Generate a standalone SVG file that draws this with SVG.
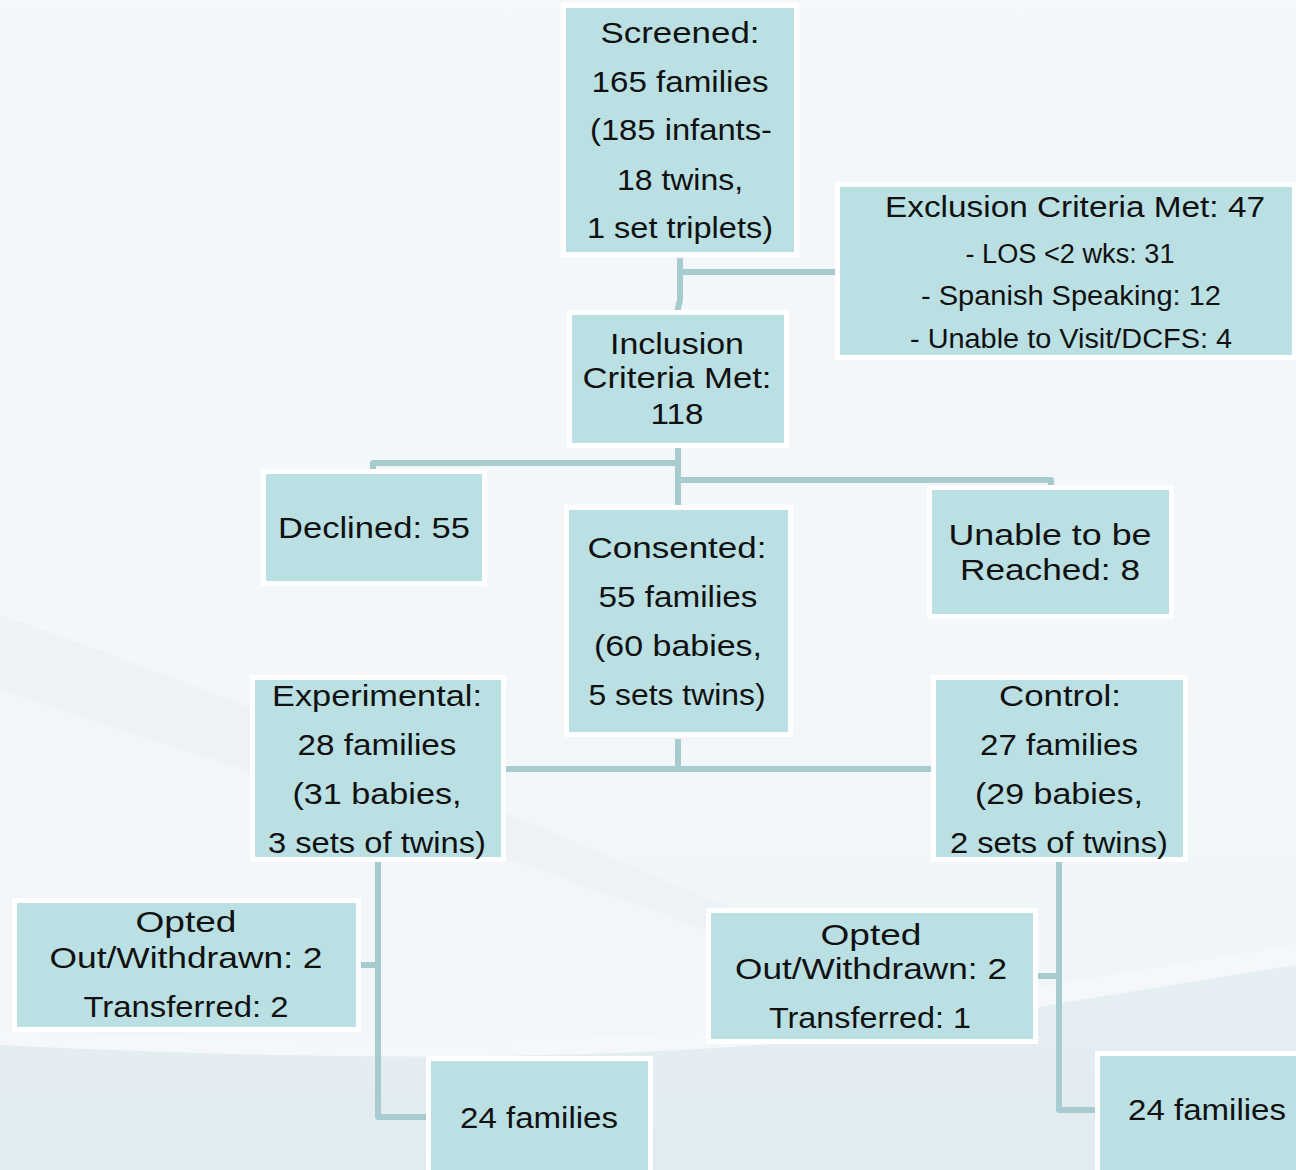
<svg xmlns="http://www.w3.org/2000/svg" width="1296" height="1170" viewBox="0 0 1296 1170">
<style>
.box{fill:#bae0e3;stroke:#ffffff;stroke-width:5}
.t{font-family:"Liberation Sans",Arial,sans-serif;font-size:30px;fill:#111;text-anchor:middle}
.s{font-size:27px}
.conn{fill:none;stroke:#a8cbcf;stroke-width:6;stroke-linejoin:round}
</style>
<defs>
<linearGradient id="bg" x1="0" y1="0" x2="0" y2="1">
<stop offset="0" stop-color="#f5f8fb"/>
<stop offset="0.6" stop-color="#f3f7fa"/>
<stop offset="1" stop-color="#eef4f7"/>
</linearGradient>
<linearGradient id="low" x1="0" y1="0" x2="0" y2="1">
<stop offset="0" stop-color="#e6eff3"/>
<stop offset="1" stop-color="#e1ecf0"/>
</linearGradient>
</defs>
<rect width="1296" height="1170" fill="url(#bg)"/>
<path d="M0 615 C250 700 520 820 760 920 C900 975 1050 1010 1296 1040 L1296 1170 L0 1170 Z" fill="#edf2f6"/>
<path d="M0 690 C250 770 520 860 760 950 C900 1000 1050 1030 1296 1050 L1296 1170 L0 1170 Z" fill="#f2f6f9"/>
<path d="M0 1030 C300 1045 650 1050 900 1010 C1050 985 1200 960 1296 945 L1296 1170 L0 1170 Z" fill="#f4f8fa"/>
<path d="M0 1045 C300 1060 650 1065 900 1030 C1050 1005 1200 980 1296 965 L1296 1170 L0 1170 Z" fill="url(#low)"/>

<g id="connectors">
<path class="conn" d="M680 258 V300 L678 308 V312"/>
<path class="conn" d="M680 272 H836"/>
<path class="conn" d="M678 448 V505"/>
<path class="conn" d="M678 463 H373 V471"/>
<path class="conn" d="M678 480 H1051 V487"/>
<path class="conn" d="M678 739 V769"/>
<path class="conn" d="M506 769 H931"/>
<path class="conn" d="M378 862 V1117 H428"/>
<path class="conn" d="M361 965 H378"/>
<path class="conn" d="M1059 862 V1110 H1096"/>
<path class="conn" d="M1038 976 H1059"/>
</g>

<g id="screened">
<rect class="box" x="563.5" y="5.5" width="233" height="249"/>
<text class="t" x="680" y="43" textLength="159" lengthAdjust="spacingAndGlyphs">Screened:</text>
<text class="t" x="680" y="92" textLength="177" lengthAdjust="spacingAndGlyphs">165 families</text>
<text class="t" x="681" y="140" textLength="182" lengthAdjust="spacingAndGlyphs">(185 infants-</text>
<text class="t" x="680" y="190" textLength="126" lengthAdjust="spacingAndGlyphs">18 twins,</text>
<text class="t" x="680" y="238" textLength="186" lengthAdjust="spacingAndGlyphs">1 set triplets)</text>
</g>

<g id="exclusion">
<rect class="box" x="837.5" y="184.5" width="457" height="173"/>
<text class="t" x="1075" y="217" textLength="380" lengthAdjust="spacingAndGlyphs">Exclusion Criteria Met: 47</text>
<text class="t s" x="1070" y="263" textLength="209" lengthAdjust="spacingAndGlyphs">- LOS &lt;2 wks: 31</text>
<text class="t s" x="1071" y="305" textLength="300" lengthAdjust="spacingAndGlyphs">- Spanish Speaking: 12</text>
<text class="t s" x="1071" y="348" textLength="322" lengthAdjust="spacingAndGlyphs">- Unable to Visit/DCFS: 4</text>
</g>

<g id="inclusion">
<rect class="box" x="569.5" y="312.5" width="217" height="133"/>
<text class="t" x="677" y="354" textLength="134" lengthAdjust="spacingAndGlyphs">Inclusion</text>
<text class="t" x="677" y="388" textLength="189" lengthAdjust="spacingAndGlyphs">Criteria Met:</text>
<text class="t" x="677" y="424" textLength="53" lengthAdjust="spacingAndGlyphs">118</text>
</g>

<g id="declined">
<rect class="box" x="263.5" y="471.5" width="221" height="112"/>
<text class="t" x="374" y="538" textLength="192" lengthAdjust="spacingAndGlyphs">Declined: 55</text>
</g>

<g id="consented">
<rect class="box" x="566.5" y="507.5" width="224" height="227"/>
<text class="t" x="677" y="558" textLength="179" lengthAdjust="spacingAndGlyphs">Consented:</text>
<text class="t" x="678" y="607" textLength="159" lengthAdjust="spacingAndGlyphs">55 families</text>
<text class="t" x="678" y="656" textLength="168" lengthAdjust="spacingAndGlyphs">(60 babies,</text>
<text class="t" x="677" y="705" textLength="177" lengthAdjust="spacingAndGlyphs">5 sets twins)</text>
</g>

<g id="unable">
<rect class="box" x="929.5" y="487.5" width="242" height="129"/>
<text class="t" x="1050" y="545" textLength="203" lengthAdjust="spacingAndGlyphs">Unable to be</text>
<text class="t" x="1050" y="580" textLength="180" lengthAdjust="spacingAndGlyphs">Reached: 8</text>
</g>

<g id="experimental">
<rect class="box" x="252.5" y="677.5" width="251" height="182"/>
<text class="t" x="377" y="706" textLength="210" lengthAdjust="spacingAndGlyphs">Experimental:</text>
<text class="t" x="377" y="755" textLength="159" lengthAdjust="spacingAndGlyphs">28 families</text>
<text class="t" x="377" y="804" textLength="169" lengthAdjust="spacingAndGlyphs">(31 babies,</text>
<text class="t" x="377" y="853" textLength="218" lengthAdjust="spacingAndGlyphs">3 sets of twins)</text>
</g>

<g id="control">
<rect class="box" x="933.5" y="677.5" width="252" height="182"/>
<text class="t" x="1060" y="706" textLength="122" lengthAdjust="spacingAndGlyphs">Control:</text>
<text class="t" x="1059" y="755" textLength="158" lengthAdjust="spacingAndGlyphs">27 families</text>
<text class="t" x="1059" y="804" textLength="168" lengthAdjust="spacingAndGlyphs">(29 babies,</text>
<text class="t" x="1059" y="853" textLength="218" lengthAdjust="spacingAndGlyphs">2 sets of twins)</text>
</g>

<g id="opted-left">
<rect class="box" x="14.5" y="900.5" width="344" height="129"/>
<text class="t" x="186" y="932" textLength="101" lengthAdjust="spacingAndGlyphs">Opted</text>
<text class="t" x="186" y="968" textLength="273" lengthAdjust="spacingAndGlyphs">Out/Withdrawn: 2</text>
<text class="t" x="186" y="1017" textLength="205" lengthAdjust="spacingAndGlyphs">Transferred: 2</text>
</g>

<g id="opted-right">
<rect class="box" x="708.5" y="910.5" width="327" height="131"/>
<text class="t" x="871" y="945" textLength="101" lengthAdjust="spacingAndGlyphs">Opted</text>
<text class="t" x="871" y="979" textLength="272" lengthAdjust="spacingAndGlyphs">Out/Withdrawn: 2</text>
<text class="t" x="870" y="1028" textLength="202" lengthAdjust="spacingAndGlyphs">Transferred: 1</text>
</g>

<g id="final-left">
<rect class="box" x="428.5" y="1058.5" width="222" height="120"/>
<text class="t" x="539" y="1128" textLength="158" lengthAdjust="spacingAndGlyphs">24 families</text>
</g>

<g id="final-right">
<rect class="box" x="1097.5" y="1053.5" width="210" height="125"/>
<text class="t" x="1207" y="1120" textLength="158" lengthAdjust="spacingAndGlyphs">24 families</text>
</g>
</svg>
